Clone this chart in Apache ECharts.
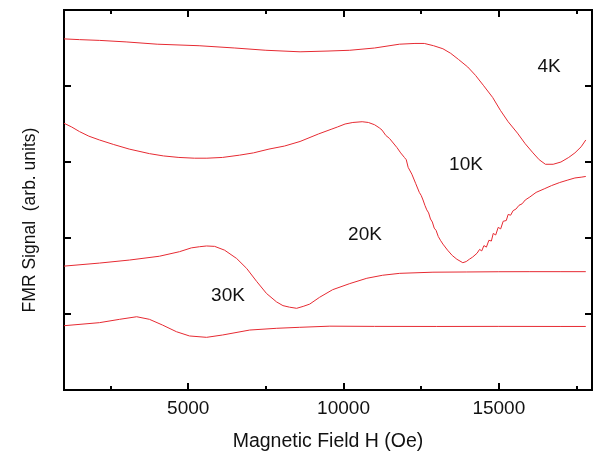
<!DOCTYPE html>
<html>
<head>
<meta charset="utf-8">
<script src="https://cdn.jsdelivr.net/npm/echarts@6/dist/echarts.min.js"></script>
<style>
html, body { margin: 0; padding: 0; background: #fff; }
#chart { width: 603px; height: 451px; }
</style>
</head>
<body>
<div id="chart"></div>
<script>
// [H (Oe), signal (arb. units)]
var curve4K = [[1000,4.62],[1500,4.61],[2150,4.60],[3000,4.58],[4000,4.55],[5350,4.53],[6500,4.50],[7500,4.47],[8600,4.45],[9500,4.46],[10200,4.47],[11000,4.50],[11800,4.55],[12300,4.56],[12600,4.56],[12900,4.53],[13200,4.49],[13450,4.43],[13700,4.35],[14000,4.25],[14250,4.14],[14500,4.01],[14800,3.85],[15050,3.68],[15300,3.53],[15600,3.38],[15850,3.24],[16100,3.12],[16300,3.03],[16500,2.97],[16750,2.97],[17000,3.00],[17250,3.06],[17450,3.12],[17650,3.20],[17800,3.29]];
var curve10K = [[1000,3.51],[1250,3.46],[1500,3.40],[1800,3.34],[2140,3.29],[2600,3.23],[3100,3.17],[3750,3.11],[4200,3.08],[4700,3.06],[5200,3.05],[5600,3.05],[6100,3.06],[6650,3.09],[7100,3.12],[7600,3.17],[8100,3.21],[8600,3.27],[9200,3.37],[9600,3.43],[9800,3.46],[10050,3.50],[10300,3.52],[10600,3.53],[10800,3.52],[11000,3.49],[11150,3.45],[11240,3.42],[11300,3.40],[11360,3.35],[11420,3.37],[11480,3.31],[11540,3.33],[11600,3.25],[11660,3.27],[11720,3.19],[11780,3.20],[11840,3.12],[11900,3.11],[11960,3.06],[12020,3.03],[12080,2.93],[12140,2.94],[12200,2.84],[12260,2.83],[12320,2.72],[12380,2.70],[12440,2.60],[12500,2.56],[12560,2.50],[12620,2.43],[12680,2.37],[12740,2.33],[12800,2.25],[12860,2.21],[12920,2.13],[12980,2.10],[13050,2.02],[13120,1.97],[13200,1.92],[13350,1.84],[13500,1.77],[13650,1.72],[13840,1.675],[13950,1.69],[14050,1.72],[14160,1.75],[14300,1.80],[14380,1.85],[14450,1.83],[14520,1.90],[14600,1.88],[14680,1.97],[14760,1.96],[14820,2.06],[14900,2.04],[14980,2.14],[15060,2.12],[15140,2.22],[15240,2.23],[15300,2.31],[15380,2.30],[15460,2.36],[15550,2.38],[15650,2.43],[15750,2.45],[15850,2.50],[16000,2.54],[16200,2.60],[16480,2.65],[16700,2.69],[16960,2.73],[17200,2.76],[17450,2.79],[17650,2.80],[17800,2.81]];
var curve20K = [[1000,1.63],[2140,1.67],[3110,1.71],[4070,1.76],[4720,1.82],[5100,1.87],[5360,1.885],[5590,1.895],[5850,1.89],[6170,1.84],[6560,1.73],[6880,1.60],[7200,1.43],[7520,1.27],[7840,1.16],[8050,1.11],[8260,1.09],[8490,1.075],[8700,1.10],[8910,1.13],[9230,1.22],[9650,1.32],[10200,1.40],[10750,1.47],[11260,1.51],[11810,1.535],[12880,1.55],[13970,1.553],[15000,1.556],[16000,1.557],[17000,1.557],[17800,1.557]];
var curve30K = [[1000,0.846],[2140,0.886],[2790,0.93],[3340,0.964],[3750,0.93],[4170,0.855],[4620,0.767],[5040,0.711],[5590,0.693],[6110,0.724],[6980,0.789],[7850,0.812],[8590,0.825],[9560,0.84],[11000,0.837],[13000,0.836],[15000,0.837],[17000,0.836],[17800,0.836]];

var majorTicks = [5000, 10000, 15000];
var minorTicks = [2500, 7500, 12500, 17500];
var yTicks = [1, 2, 3, 4];

var curveNames = ['4K', '10K', '20K', '30K'];
var curveLabelPos = [[549, 67], [466, 165], [365, 235], [228, 296]];

var font = '"Liberation Sans", Arial, sans-serif';
var red = '#e62a32';

var chart = echarts.init(document.getElementById('chart'));

function xAxisDef(pos, ticks, len, showLabel, name) {
    return {
        type: 'value', position: pos, min: 1000, max: 18000,
        name: name || '', nameLocation: 'middle', nameGap: 42,
        nameTextStyle: { color: '#111', fontSize: 19.5, fontFamily: font },
        axisLine: { show: true, onZero: false, lineStyle: { color: '#000', width: 2 } },
        axisTick: { show: true, inside: true, length: len, customValues: ticks, lineStyle: { color: '#000', width: 2 } },
        axisLabel: {
            show: showLabel, customValues: ticks, margin: 9, color: '#111', fontSize: 19, fontFamily: font,
            formatter: function (v) { return String(v); }
        },
        splitLine: { show: false }
    };
}
function yAxisDef(pos) {
    return {
        type: 'value', position: pos, min: 0, max: 5,
        axisLine: { show: true, onZero: false, lineStyle: { color: '#000', width: 2 } },
        axisTick: { show: true, inside: true, length: 7, customValues: yTicks, lineStyle: { color: '#000', width: 2 } },
        axisLabel: { show: false },
        splitLine: { show: false }
    };
}

var seriesList = [curve4K, curve10K, curve20K, curve30K].map(function (d, i) {
    return {
        name: curveNames[i], type: 'line', data: d, showSymbol: false,
        xAxisIndex: 0, yAxisIndex: 0,
        lineStyle: { color: red, width: 1 }, silent: true, animation: false
    };
});

var labels = curveNames.map(function (n, i) {
    return {
        type: 'text', x: curveLabelPos[i][0], y: curveLabelPos[i][1],
        style: { text: n, fill: '#111', fontSize: 19, fontFamily: font, align: 'center', verticalAlign: 'middle' }
    };
});
// y axis title, rotated
labels.push({
    type: 'text', x: 30, y: 220, rotation: Math.PI / 2,
    style: { text: 'FMR Signal  (arb. units)', fill: '#111', fontSize: 17.5, fontFamily: font, align: 'center', verticalAlign: 'middle' }
});

chart.setOption({
    animation: false,
    grid: { left: 64, right: 11, top: 10, bottom: 61, containLabel: false, outerBoundsMode: 'none' },
    xAxis: [
        xAxisDef('bottom', majorTicks, 7, true, 'Magnetic Field H (Oe)'),
        xAxisDef('bottom', minorTicks, 4, false),
        xAxisDef('top', majorTicks, 7, false),
        xAxisDef('top', minorTicks, 4, false)
    ],
    yAxis: [yAxisDef('left'), yAxisDef('right')],
    series: seriesList,
    graphic: labels
});
</script>
</body>
</html>
